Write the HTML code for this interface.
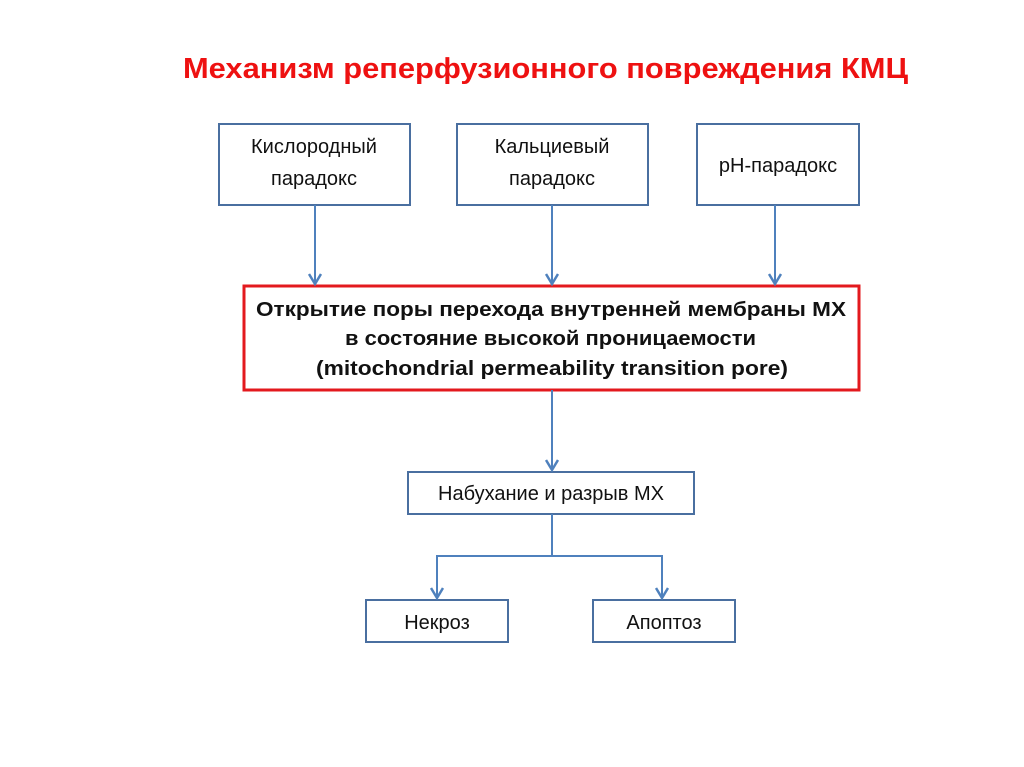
<!DOCTYPE html>
<html><head><meta charset="utf-8"><style>
html,body{margin:0;padding:0;background:#fff}
svg{display:block}
text{font-family:"Liberation Sans",sans-serif}
</style></head><body>
<svg width="1024" height="767" viewBox="0 0 1024 767" xmlns="http://www.w3.org/2000/svg">
<defs>
<marker id="a" markerWidth="14" markerHeight="14" refX="11" refY="7" orient="auto" markerUnits="userSpaceOnUse">
<path d="M1,1 L11,7 L1,13" fill="none" stroke="#4f81bd" stroke-width="2.5"/>
</marker>
</defs>
<text x="183" y="78" textLength="725" lengthAdjust="spacingAndGlyphs" font-size="29" font-weight="bold" fill="#ee1111">Механизм реперфузионного повреждения КМЦ</text>

<g fill="#fff" stroke="#4a6fa0" stroke-width="2">
<rect x="219" y="124" width="191" height="81"/>
<rect x="457" y="124" width="191" height="81"/>
<rect x="697" y="124" width="162" height="81"/>
<rect x="408" y="472" width="286" height="42"/>
<rect x="366" y="600" width="142" height="42"/>
<rect x="593" y="600" width="142" height="42"/>
</g>
<rect x="244" y="286" width="615" height="104" fill="#fff" stroke="#e3191e" stroke-width="3"/>

<g stroke="#4f81bd" stroke-width="2" fill="none">
<line x1="315" y1="205" x2="315" y2="284" marker-end="url(#a)"/>
<line x1="552" y1="205" x2="552" y2="284" marker-end="url(#a)"/>
<line x1="775" y1="205" x2="775" y2="284" marker-end="url(#a)"/>
<line x1="552" y1="390" x2="552" y2="470" marker-end="url(#a)"/>
<polyline points="552,514 552,556 437,556 437,598" marker-end="url(#a)"/>
<polyline points="552,556 662,556 662,598" marker-end="url(#a)"/>
</g>

<g font-size="20" fill="#111" text-anchor="middle">
<text x="314" y="153">Кислородный</text>
<text x="314" y="185">парадокс</text>
<text x="552" y="153">Кальциевый</text>
<text x="552" y="185">парадокс</text>
<text x="778" y="172">pH-парадокс</text>
<text x="551" y="500">Набухание и разрыв МХ</text>
<text x="437" y="629">Некроз</text>
<text x="664" y="629">Апоптоз</text>
</g>
<g font-size="20" font-weight="bold" fill="#111">
<text x="256" y="316" textLength="590" lengthAdjust="spacingAndGlyphs">Открытие поры перехода внутренней мембраны МХ</text>
<text x="345" y="345" textLength="411" lengthAdjust="spacingAndGlyphs">в состояние высокой проницаемости</text>
<text x="316" y="375" textLength="472" lengthAdjust="spacingAndGlyphs">(mitochondrial permeability transition pore)</text>
</g>
</svg>
</body></html>
